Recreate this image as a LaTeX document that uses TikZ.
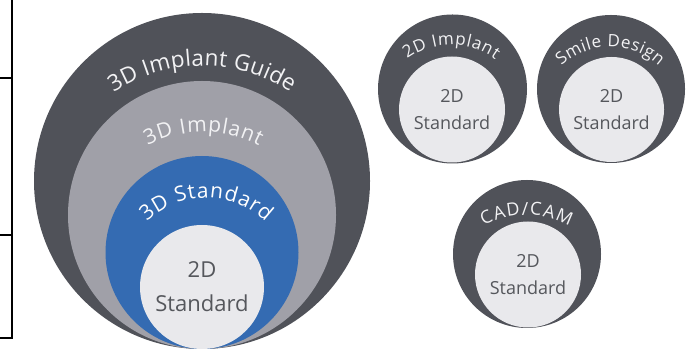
\documentclass[tikz,border=0pt]{standalone}
\usepackage{fontspec}
\setmainfont{Open Sans}
\usetikzlibrary{decorations.text}
\definecolor{dark}{HTML}{505259}
\definecolor{midgray}{HTML}{A0A0A8}
\definecolor{blueA}{HTML}{346BB2}
\definecolor{lightc}{HTML}{E9E9EC}
\definecolor{txtdark}{HTML}{55575C}
\definecolor{txtlight}{HTML}{F2F2F4}
\newcommand\fBig{\fontsize{22.5}{28}\selectfont}
\newcommand\fMid{\fontsize{21}{24}\selectfont}
\newcommand\fSm{\fontsize{17}{20}\selectfont}
\newcommand\fCad{\fontsize{18}{20}\selectfont}
\begin{document}
\begin{tikzpicture}[x=1pt,y=1pt,
  disc/.style={circle, inner sep=0pt, draw=none},
  innertxt/.style={align=center, text=txtdark, inner sep=0pt},
  frameline/.style={line width=1.3pt, black}]
\useasboundingbox (0,0) rectangle (700,350);
% left frame lines
\coordinate (ftop) at (12,350);
\coordinate (fbot) at (12,12);
\draw[frameline] (ftop) -- (fbot) -- (0,12);
\draw[frameline] (0,272) -- (12,272);
\draw[frameline] (0,115) -- (12,115);
% big nested circles
\node[disc, fill=dark, minimum size=336pt] (guide) at (202,169) {};
\node[disc, fill=midgray, minimum size=268pt] (impl) at (202,135) {};
\node[disc, fill=blueA, minimum size=193pt] (std3) at (202,97.5) {};
\node[disc, fill=lightc, minimum size=124pt] (std2) at (202,63) {};
\node[innertxt, font={\fontsize{22}{34}\selectfont}] (std2t) at (std2) {2D\\Standard};
% curved labels big
\path[decorate, decoration={text along path, text align=center,
  text={|\fBig\color{txtlight}\kern0.2pt|3D Implant Guide}}]
  (202,124) ++(150:160) arc[start angle=150, end angle=30, radius=160];
\path[decorate, decoration={text along path, text align=center,
  text={|\fMid\color{txtlight}\kern0.8pt|3D Implant}}]
  (203,98) ++(150:120) arc[start angle=150, end angle=30, radius=120];
\path[decorate, decoration={text along path, text align=center,
  text={|\fMid\color{white}\kern0.9pt|3D Standard}}]
  (206,67) ++(175:85) arc[start angle=175, end angle=5, radius=85];
% small circle 1
\node[disc, fill=dark, minimum size=149pt] (imp2) at (452.5,261) {};
\node[disc, fill=lightc, minimum size=106pt] (imp2in) at (452,240.5) {};
\node[innertxt, font={\fontsize{18}{27}\selectfont}] (imp2t) at (imp2in) {2D\\Standard};
\path[decorate, decoration={text along path, text align=center,
  text={|\fSm\color{txtlight}\kern0.7pt|2D Implant}}]
  (451,230) ++(175:75) arc[start angle=175, end angle=5, radius=75];
% small circle 2
\node[disc, fill=dark, minimum size=148pt] (smile) at (611,261) {};
\node[disc, fill=lightc, minimum size=105pt] (smilein) at (611.5,240.5) {};
\node[innertxt, font={\fontsize{18}{27}\selectfont}] (smilet) at (smilein) {2D\\Standard};
\path[decorate, decoration={text along path, text align=center,
  text={|\fSm\color{txtlight}\kern0.5pt|Smile Design}}]
  (610,231) ++(175:72) arc[start angle=175, end angle=5, radius=72];
% small circle 3
\node[disc, fill=dark, minimum size=148pt] (cad) at (527,96) {};
\node[disc, fill=lightc, minimum size=106pt] (cadin) at (528,75.5) {};
\node[innertxt, font={\fontsize{18}{27}\selectfont}] (cadt) at (cadin) {2D\\Standard};
\path[decorate, decoration={text along path, text align=center,
  text={|\fCad\color{txtlight}\kern1.3pt|CAD/CAM}}]
  (526,45) ++(165:90) arc[start angle=165, end angle=15, radius=90];
\end{tikzpicture}
\end{document}
